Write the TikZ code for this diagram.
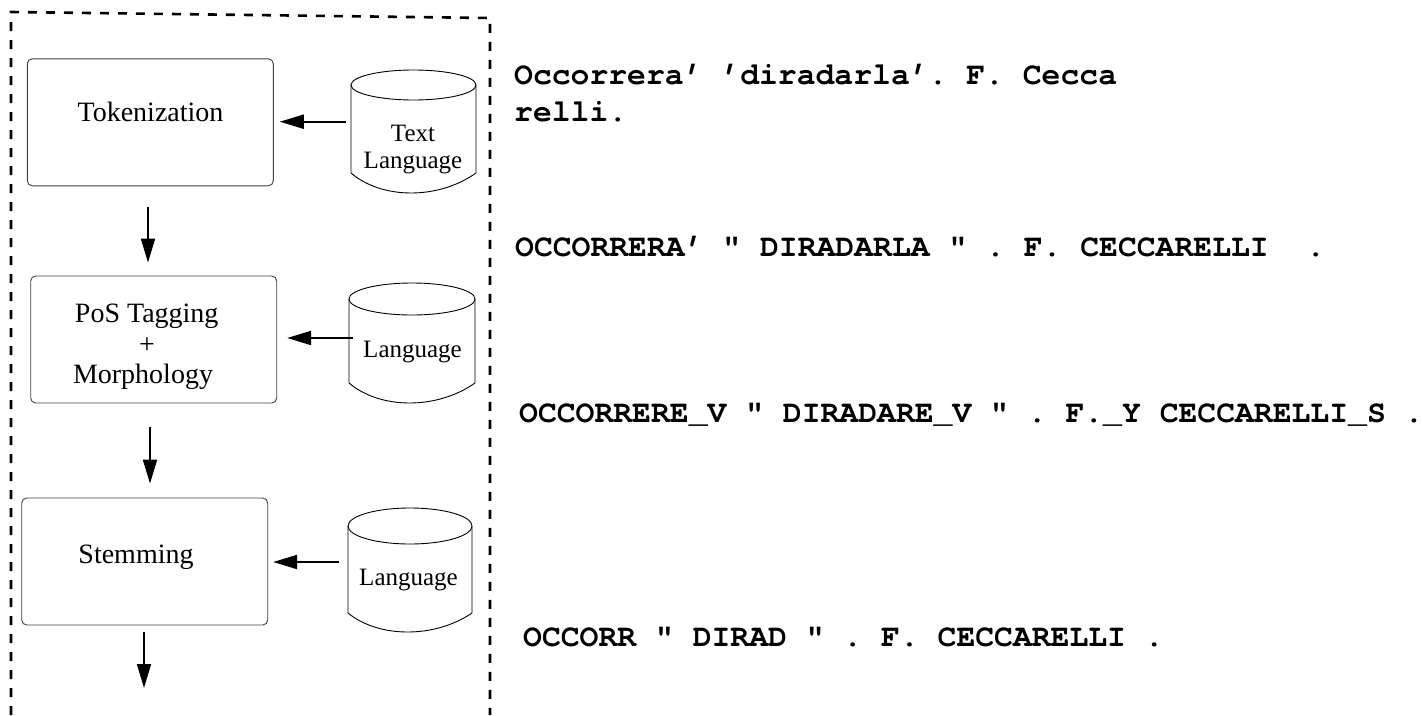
\documentclass[tikz,border=0pt]{standalone}
\usepackage{fontspec}
\setmainfont{Liberation Serif}
\newfontfamily\courfam{texgyrecursor}[Extension=.otf, UprightFont=*-regular, BoldFont=*-bold]
\usetikzlibrary{arrows.meta}
\frenchspacing
\newcommand\mycyl[6]{%
  \pgfmathsetmacro\cxm{(#1+#2)/2}%
  \pgfmathsetmacro\crx{(#2-#1)/2}%
  \pgfmathsetmacro\caa{#1+0.25*(#2-#1)}%
  \pgfmathsetmacro\cbb{#1+0.70*(#2-#1)}%
  \pgfmathsetmacro\cyy{#5+1.333*#6}%
  \draw[cylline] (\cxm,#3) ellipse [x radius=\crx, y radius=#4];
  \draw[cylline] (#1,#3) -- (#1,#5) .. controls (\caa,\cyy) and (\cbb,\cyy) .. (#2,#5) -- (#2,#3);
}
\begin{document}
\begin{tikzpicture}[x=1pt,y=-1pt,
  procbox/.style={draw=black!75, line width=0.9pt, rounded corners=5pt,
    minimum width=246pt, minimum height=127pt, inner sep=0pt},
  boxtext/.style={font=\fontsize{28}{32}\selectfont, inner sep=0pt, anchor=base},
  cyltext/.style={font=\fontsize{25}{28}\selectfont, inner sep=0pt, anchor=base},
  cylline/.style={draw=black, line width=0.9pt},
  cylbody/.style={inner sep=0pt, minimum width=125pt, minimum height=80pt},
  arr/.style={line width=2pt, -{Triangle[length=24pt, width=14pt]}},
  outtext/.style={font=\courfam\bfseries\fontsize{31.4}{36}\selectfont, inner sep=0pt, anchor=base west},
  frame/.style={line width=2.6pt, dash pattern=on 9pt off 9pt}
]
\useasboundingbox (0,0) rectangle (1423,715);
\fill[white] (0,0) rectangle (1423,715);

% dashed frame (open at the bottom)
\coordinate (fbl) at (11,715);
\coordinate (ftl) at (11,12);
\coordinate (ftr) at (490,18);
\coordinate (fbr) at (490,715);
\draw[frame] (fbl) -- (ftl) -- (ftr) -- (fbr);

% process boxes
\node[procbox] (tok) at (150.3,122.3) {};
\node[procbox] (pos) at (153.7,339.5) {};
\node[procbox] (stem) at (144.7,561.5) {};

\node[boxtext] (toktxt) at (150.5,121.7) {Tokenization};
\node[boxtext] (postxt) at (146.7,322) {PoS Tagging};
\node[font=\fontsize{28}{32}\selectfont, inner sep=0pt] (plustxt) at (147,346) {+};
\node[boxtext] (morphtxt) at (143,383.3) {Morphology};
\node[boxtext] (stemtxt) at (136,563) {Stemming};

% cylinders
\mycyl{351}{476}{85}{15}{173}{20}
\mycyl{349}{475}{299}{16}{383}{20}
\mycyl{348}{472}{526}{18}{613}{19}
\node[cylbody] (db1) at (413.5,130) {};
\node[cylbody] (db2) at (412,340) {};
\node[cylbody] (db3) at (410,570) {};

\node[cyltext] (db1a) at (413,141.7) {Text};
\node[cyltext] (db1b) at (413,168.3) {Language};
\node[cyltext] (db2a) at (412.5,357) {Language};
\node[cyltext] (db3a) at (408.5,585) {Language};

% horizontal arrows
\coordinate (ay1) at (0,121.7);
\coordinate (ay2) at (0,338);
\coordinate (ay3) at (0,562);
\draw[arr] ([xshift=-5pt]db1.west |- ay1) -- ([xshift=6pt]tok.east |- ay1);
\draw[arr] ([xshift=4pt]db2.west |- ay2) -- ([xshift=10pt]pos.east |- ay2);
\draw[arr] ([xshift=-8pt]db3.west |- ay3) -- ([xshift=5pt]stem.east |- ay3);

% vertical arrows
\coordinate (ax1) at (148,0);
\coordinate (ax2) at (150,0);
\coordinate (ax3) at (144,0);
\coordinate (outend) at (144,688);
\draw[arr] ([yshift=-21pt]tok.south -| ax1) -- ([yshift=13pt]pos.north -| ax1);
\draw[arr] ([yshift=-24pt]pos.south -| ax2) -- ([yshift=14pt]stem.north -| ax2);
\draw[arr] ([yshift=-7pt]stem.south -| ax3) -- (outend);

% output texts
\node[outtext] (o1) at (514,84) {Occorrera’ ’diradarla’. F. Cecca};
\node[outtext] (o2) at (514,121) {relli.};
\node[outtext] (o3) at (515,256) {OCCORRERA’ " DIRADARLA " . F. CECCARELLI\ \ .};
\node[outtext] (o4) at (519,422) {OCCORRERE\_V " DIRADARE\_V " . F.\_Y CECCARELLI\_S .};
\node[outtext] (o5) at (523,646) {OCCORR " DIRAD " . F. CECCARELLI .};
\end{tikzpicture}
\end{document}
